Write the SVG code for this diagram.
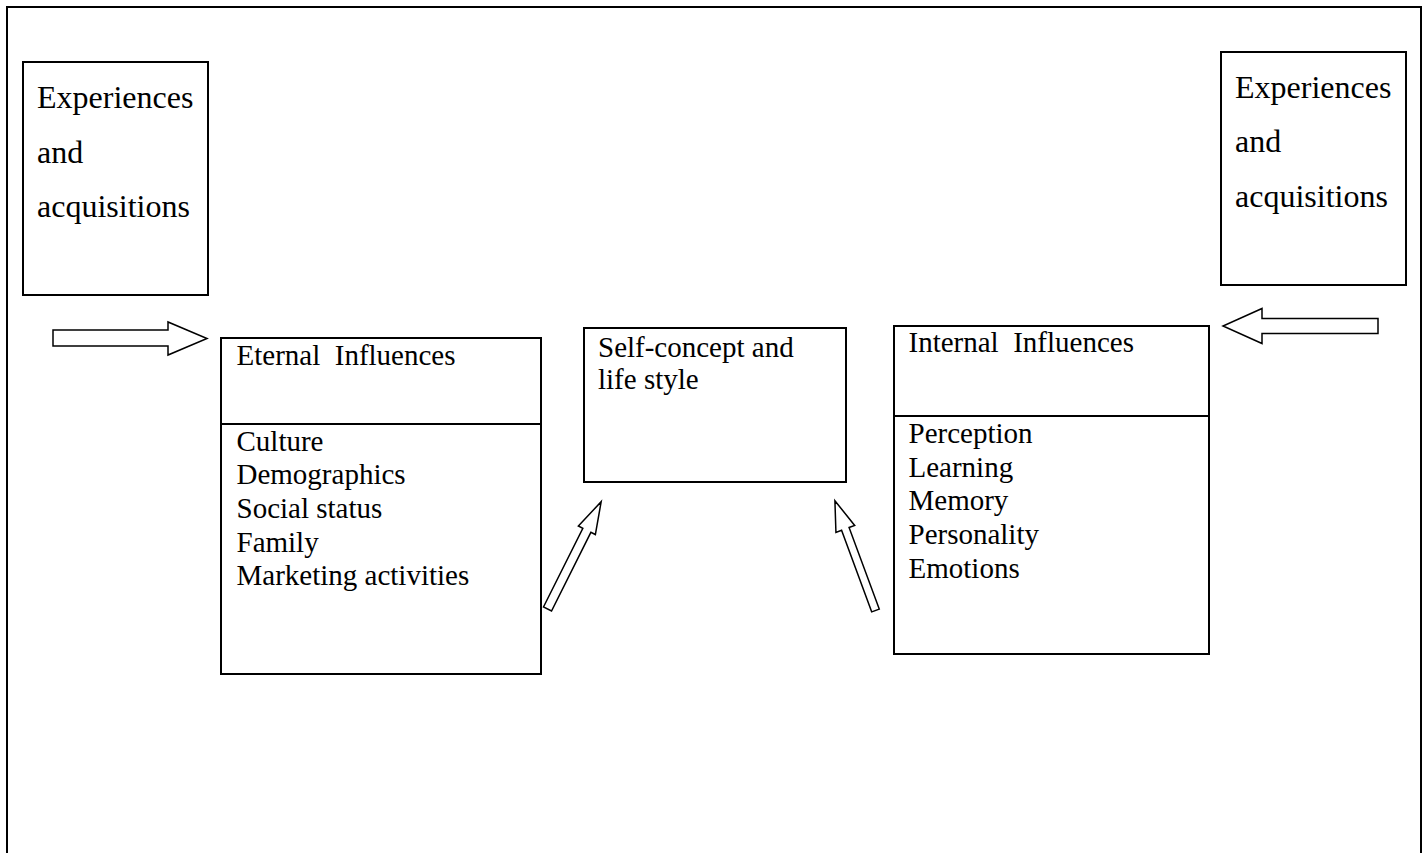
<svg xmlns="http://www.w3.org/2000/svg" width="1427" height="853" viewBox="0 0 1427 853">
<style>
  .box { fill: #fff; stroke: #000; stroke-width: 2; }
  .line { stroke: #000; stroke-width: 2; fill: none; }
  .arrow { fill: #fff; stroke: #000; stroke-width: 1.5; stroke-linejoin: miter; }
  .t32 { font-family: "Liberation Serif", "Times New Roman", serif; font-size: 32px; fill: #000; }
  .t29 { font-family: "Liberation Serif", "Times New Roman", serif; font-size: 29px; fill: #000; white-space: pre; }
</style>
<rect width="1427" height="853" fill="#fff"/>
<path class="line" d="M7,853 V7 H1421 V853"/>

<g id="exp-left">
  <rect class="box" x="23" y="62" width="185" height="233"/>
  <text class="t32" x="37" y="108">Experiences</text>
  <text class="t32" x="37" y="162.5">and</text>
  <text class="t32" x="37" y="217">acquisitions</text>
</g>

<g id="exp-right">
  <rect class="box" x="1221" y="52" width="185" height="233"/>
  <text class="t32" x="1235" y="97.5">Experiences</text>
  <text class="t32" x="1235" y="152">and</text>
  <text class="t32" x="1235" y="206.5">acquisitions</text>
</g>

<g id="external">
  <rect class="box" x="221" y="338" width="320" height="336"/>
  <line class="line" x1="221" y1="424" x2="541" y2="424"/>
  <text class="t29" x="236.5" y="365" xml:space="preserve">Eternal  Influences</text>
  <text class="t29" x="236.5" y="450.5">Culture</text>
  <text class="t29" x="236.5" y="484">Demographics</text>
  <text class="t29" x="236.5" y="518">Social status</text>
  <text class="t29" x="236.5" y="551.7">Family</text>
  <text class="t29" x="236.5" y="585">Marketing activities</text>
</g>

<g id="self">
  <rect class="box" x="584" y="328" width="262" height="154"/>
  <text class="t29" x="598" y="356.7">Self-concept and</text>
  <text class="t29" x="598" y="389">life style</text>
</g>

<g id="internal">
  <rect class="box" x="894" y="326" width="315" height="328"/>
  <line class="line" x1="894" y1="416" x2="1209" y2="416"/>
  <text class="t29" x="908.5" y="351.7" xml:space="preserve">Internal  Influences</text>
  <text class="t29" x="908.5" y="443.3">Perception</text>
  <text class="t29" x="908.5" y="476.7">Learning</text>
  <text class="t29" x="908.5" y="510">Memory</text>
  <text class="t29" x="908.5" y="544.3">Personality</text>
  <text class="t29" x="908.5" y="578.3">Emotions</text>
</g>

<g id="connectors">
  <polygon class="arrow" points="53,330 168,330 168,322 207,338.5 168,355 168,346 53,346"/>
  <polygon class="arrow" points="1378,318.5 1262,318.5 1262,308.5 1223,326 1262,343.5 1262,333.5 1378,333.5"/>
  <polygon class="arrow" transform="translate(547.5,609) rotate(-63.43)" points="0,-4.5 88,-4.5 88,-9.5 120,0 88,9.5 88,4.5 0,4.5"/>
  <polygon class="arrow" transform="translate(875.5,610.5) rotate(-110.3)" points="0,-4 87,-4 87,-10 117,0 87,10 87,4 0,4"/>
</g>
</svg>
